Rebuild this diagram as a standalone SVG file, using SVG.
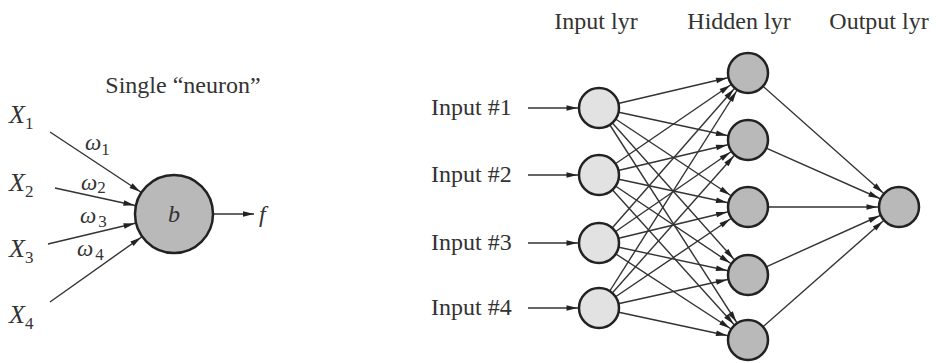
<svg xmlns="http://www.w3.org/2000/svg" width="936" height="363" viewBox="0 0 936 363">
  <style>
    .txt { font-family: "Liberation Serif", "Times New Roman", serif; fill: #333; }
    .it { font-style: italic; }
    .lbl { font-size: 24px; }
    .sub { font-style: normal; }
    .edge { stroke: #333; stroke-width: 1.4; fill: none; }
    .in-node { fill: #e2e2e2; stroke: #222; stroke-width: 2.5; }
    .dark-node { fill: #b9b9b9; stroke: #222; stroke-width: 2.5; }
  </style>
  <defs>
    <!-- arrowhead whose tip sits on the rim of a r=20 node when the line ends at its centre -->
    <marker id="ah20" markerUnits="userSpaceOnUse" orient="auto" refX="21.5" refY="0" markerWidth="12" markerHeight="8" style="overflow:visible">
      <path d="M0,0 L-11,-2.8 L-11,2.8 Z" fill="#222"/>
    </marker>
    <!-- same, for the big r=39 neuron -->
    <marker id="ah39" markerUnits="userSpaceOnUse" orient="auto" refX="40.5" refY="0" markerWidth="12" markerHeight="8" style="overflow:visible">
      <path d="M0,0 L-11,-2.8 L-11,2.8 Z" fill="#222"/>
    </marker>
    <!-- plain arrowhead at the line end -->
    <marker id="ah0" markerUnits="userSpaceOnUse" orient="auto" refX="0" refY="0" markerWidth="12" markerHeight="8" style="overflow:visible">
      <path d="M0,0 L-11,-2.8 L-11,2.8 Z" fill="#222"/>
    </marker>
  </defs>

  <!-- ===== Single neuron ===== -->
  <text class="txt lbl" x="183" y="93" text-anchor="middle" font-size="25">Single “neuron”</text>

  <g id="connectors-neuron">
    <line class="edge" x1="50" y1="132" x2="174" y2="214" marker-end="url(#ah39)"/>
    <line class="edge" x1="55" y1="188" x2="174" y2="214" marker-end="url(#ah39)"/>
    <line class="edge" x1="48" y1="244" x2="174" y2="214" marker-end="url(#ah39)"/>
    <line class="edge" x1="50" y1="302" x2="174" y2="214" marker-end="url(#ah39)"/>
    <line class="edge" x1="213" y1="214" x2="254" y2="214" marker-end="url(#ah0)"/>
  </g>

  <g id="x-inputs">
    <text class="txt it" font-size="26" x="9" y="123">X<tspan class="sub" font-size="17" dy="6">1</tspan></text>
    <text class="txt it" font-size="26" x="9" y="191">X<tspan class="sub" font-size="17" dy="6">2</tspan></text>
    <text class="txt it" font-size="26" x="9" y="257">X<tspan class="sub" font-size="17" dy="6">3</tspan></text>
    <text class="txt it" font-size="26" x="9" y="323">X<tspan class="sub" font-size="17" dy="6">4</tspan></text>
  </g>

  <g id="weights">
    <text class="txt it" font-size="23" x="85" y="150">ω<tspan class="sub" font-size="17" dy="5">1</tspan></text>
    <text class="txt it" font-size="23" x="81" y="190">ω<tspan class="sub" font-size="17" dy="3">2</tspan></text>
    <text class="txt it" font-size="23" x="80" y="223">ω<tspan class="sub" font-size="17" dx="2" dy="4">3</tspan></text>
    <text class="txt it" font-size="23" x="77" y="256">ω<tspan class="sub" font-size="17" dx="2" dy="4">4</tspan></text>
  </g>

  <g id="neuron">
    <circle class="dark-node" cx="174" cy="214" r="39"/>
    <text class="txt it lbl" x="174" y="222" text-anchor="middle">b</text>
  </g>
  <text class="txt it lbl" x="259" y="222">f</text>

  <!-- ===== Network ===== -->
  <g id="layer-titles">
    <text class="txt lbl" x="596" y="29" text-anchor="middle">Input lyr</text>
    <text class="txt lbl" x="739" y="29" text-anchor="middle">Hidden lyr</text>
    <text class="txt lbl" x="879" y="29" text-anchor="middle">Output lyr</text>
  </g>

  <g id="input-labels">
    <text class="txt lbl" x="431" y="115">Input #1</text>
    <text class="txt lbl" x="431" y="182">Input #2</text>
    <text class="txt lbl" x="431" y="250">Input #3</text>
    <text class="txt lbl" x="431" y="315">Input #4</text>
  </g>

  <g id="connectors">
    <!-- feeds into the input layer -->
    <line class="edge" x1="528" y1="108" x2="599" y2="108" marker-end="url(#ah20)"/>
    <line class="edge" x1="528" y1="175" x2="599" y2="175" marker-end="url(#ah20)"/>
    <line class="edge" x1="528" y1="243" x2="599" y2="243" marker-end="url(#ah20)"/>
    <line class="edge" x1="528" y1="308" x2="599" y2="308" marker-end="url(#ah20)"/>
    <!-- input -> hidden -->
    <line class="edge" x1="599" y1="108" x2="748" y2="73" marker-end="url(#ah20)"/>
    <line class="edge" x1="599" y1="108" x2="748" y2="140" marker-end="url(#ah20)"/>
    <line class="edge" x1="599" y1="108" x2="748" y2="207" marker-end="url(#ah20)"/>
    <line class="edge" x1="599" y1="108" x2="748" y2="275" marker-end="url(#ah20)"/>
    <line class="edge" x1="599" y1="108" x2="748" y2="340" marker-end="url(#ah20)"/>
    <line class="edge" x1="599" y1="175" x2="748" y2="73" marker-end="url(#ah20)"/>
    <line class="edge" x1="599" y1="175" x2="748" y2="140" marker-end="url(#ah20)"/>
    <line class="edge" x1="599" y1="175" x2="748" y2="207" marker-end="url(#ah20)"/>
    <line class="edge" x1="599" y1="175" x2="748" y2="275" marker-end="url(#ah20)"/>
    <line class="edge" x1="599" y1="175" x2="748" y2="340" marker-end="url(#ah20)"/>
    <line class="edge" x1="599" y1="243" x2="748" y2="73" marker-end="url(#ah20)"/>
    <line class="edge" x1="599" y1="243" x2="748" y2="140" marker-end="url(#ah20)"/>
    <line class="edge" x1="599" y1="243" x2="748" y2="207" marker-end="url(#ah20)"/>
    <line class="edge" x1="599" y1="243" x2="748" y2="275" marker-end="url(#ah20)"/>
    <line class="edge" x1="599" y1="243" x2="748" y2="340" marker-end="url(#ah20)"/>
    <line class="edge" x1="599" y1="308" x2="748" y2="73" marker-end="url(#ah20)"/>
    <line class="edge" x1="599" y1="308" x2="748" y2="140" marker-end="url(#ah20)"/>
    <line class="edge" x1="599" y1="308" x2="748" y2="207" marker-end="url(#ah20)"/>
    <line class="edge" x1="599" y1="308" x2="748" y2="275" marker-end="url(#ah20)"/>
    <line class="edge" x1="599" y1="308" x2="748" y2="340" marker-end="url(#ah20)"/>
    <!-- hidden -> output -->
    <line class="edge" x1="748" y1="73" x2="899" y2="207" marker-end="url(#ah20)"/>
    <line class="edge" x1="748" y1="140" x2="899" y2="207" marker-end="url(#ah20)"/>
    <line class="edge" x1="748" y1="207" x2="899" y2="207" marker-end="url(#ah20)"/>
    <line class="edge" x1="748" y1="275" x2="899" y2="207" marker-end="url(#ah20)"/>
    <line class="edge" x1="748" y1="340" x2="899" y2="207" marker-end="url(#ah20)"/>
  </g>

  <g id="in1"><circle class="in-node" cx="599" cy="108" r="20"/></g>
  <g id="in2"><circle class="in-node" cx="599" cy="175" r="20"/></g>
  <g id="in3"><circle class="in-node" cx="599" cy="243" r="20"/></g>
  <g id="in4"><circle class="in-node" cx="599" cy="308" r="20"/></g>

  <g id="h1"><circle class="dark-node" cx="748" cy="73" r="20"/></g>
  <g id="h2"><circle class="dark-node" cx="748" cy="140" r="20"/></g>
  <g id="h3"><circle class="dark-node" cx="748" cy="207" r="20"/></g>
  <g id="h4"><circle class="dark-node" cx="748" cy="275" r="20"/></g>
  <g id="h5"><circle class="dark-node" cx="748" cy="340" r="20"/></g>

  <g id="out"><circle class="dark-node" cx="899" cy="207" r="20"/></g>
</svg>
